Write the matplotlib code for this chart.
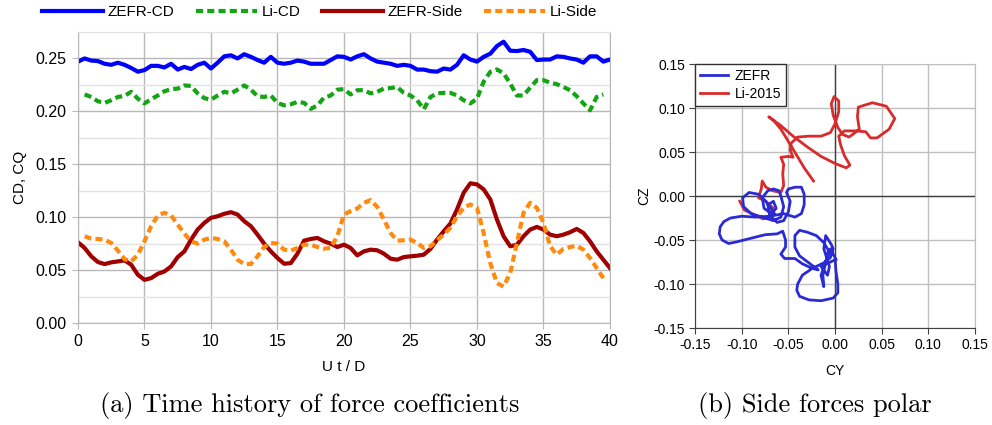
import matplotlib
matplotlib.use("Agg")
import matplotlib.pyplot as plt
import numpy as np

plt.rcParams['font.family'] = ['Liberation Sans', 'DejaVu Sans']

# ---- (a) time history data (sampled every 0.5 U t/D) ----
t = np.arange(0, 40.5, 0.5)

zefr_cd = [0.247, 0.250, 0.248, 0.2475, 0.245, 0.244, 0.246, 0.244, 0.241, 0.2375,
           0.239, 0.243, 0.243, 0.2415, 0.245, 0.2395, 0.242, 0.240, 0.244, 0.246,
           0.2405, 0.246, 0.252, 0.253, 0.250, 0.254, 0.2515, 0.2485, 0.246, 0.2515,
           0.246, 0.245, 0.246, 0.248, 0.247, 0.245, 0.245, 0.245, 0.2485, 0.252,
           0.2515, 0.249, 0.252, 0.254, 0.250, 0.247, 0.246, 0.245, 0.243, 0.244,
           0.243, 0.2395, 0.2395, 0.238, 0.2375, 0.2405, 0.2395, 0.244, 0.253, 0.249,
           0.247, 0.2515, 0.2545, 0.2617, 0.2658, 0.2573, 0.257, 0.258, 0.2563, 0.2485,
           0.249, 0.249, 0.252, 0.2515, 0.250, 0.249, 0.246, 0.252, 0.252, 0.247,
           0.249]

li_cd = [np.nan, 0.216, 0.2136, 0.2095, 0.208, 0.2105, 0.2136, 0.2146, 0.2185, 0.212,
         0.2075, 0.2115, 0.215, 0.219, 0.221, 0.2215, 0.2245, 0.224, 0.217, 0.2125,
         0.211, 0.215, 0.2185, 0.217, 0.2205, 0.2245, 0.2205, 0.2143, 0.2136, 0.215,
         0.208, 0.2057, 0.2067, 0.209, 0.208, 0.2023, 0.2057, 0.213, 0.215, 0.2205,
         0.221, 0.216, 0.220, 0.220, 0.217, 0.2185, 0.2215, 0.222, 0.223, 0.2175,
         0.215, 0.2105, 0.202, 0.2136, 0.217, 0.2175, 0.2175, 0.215, 0.2105, 0.2075,
         0.212, 0.228, 0.2374, 0.2396, 0.236, 0.2263, 0.215, 0.215, 0.2225, 0.2295,
         0.2295, 0.227, 0.2257, 0.223, 0.220, 0.2143, 0.2075, 0.201, 0.2136, 0.216,
         np.nan]

zefr_side = [0.0763, 0.0709, 0.063, 0.0576, 0.0557, 0.0573, 0.0582, 0.0592, 0.0551, 0.0456,
             0.0408, 0.0424, 0.0465, 0.0487, 0.0535, 0.0623, 0.0677, 0.0788, 0.0883, 0.0946,
             0.0994, 0.1009, 0.1032, 0.1047, 0.1025, 0.0962, 0.0915, 0.0835, 0.075, 0.0677,
             0.0614, 0.056, 0.0566, 0.0655, 0.0778, 0.0794, 0.0804, 0.0772, 0.075, 0.0718,
             0.074, 0.0709, 0.0639, 0.0677, 0.0693, 0.0687, 0.0655, 0.0608, 0.0598, 0.0623,
             0.063, 0.0636, 0.0646, 0.070, 0.0788, 0.0867, 0.094, 0.1073, 0.1231, 0.132,
             0.131, 0.1263, 0.1168, 0.0978, 0.082, 0.0725, 0.074, 0.082, 0.0883, 0.0908,
             0.0883, 0.0835, 0.082, 0.0835, 0.0858, 0.0889, 0.0851, 0.0772, 0.0677, 0.0598,
             0.0519]

li_side = [np.nan, 0.082, 0.0797, 0.0794, 0.0788, 0.0756, 0.0684, 0.0604, 0.0582, 0.0646,
           0.0772, 0.0915, 0.1016, 0.1041, 0.1016, 0.093, 0.0845, 0.0772, 0.075, 0.0788,
           0.0804, 0.0794, 0.0772, 0.0693, 0.0598, 0.0557, 0.0557, 0.063, 0.0718, 0.0756,
           0.075, 0.0693, 0.0684, 0.0709, 0.074, 0.074, 0.0718, 0.0703, 0.0709, 0.082,
           0.1025, 0.1057, 0.1082, 0.1136, 0.1161, 0.1098, 0.0978, 0.0851, 0.0778, 0.0782,
           0.0788, 0.0756, 0.0709, 0.0725, 0.0782, 0.0835, 0.0899, 0.1009, 0.1089, 0.112,
           0.1089, 0.0851, 0.0566, 0.0377, 0.0345, 0.0472, 0.0756, 0.1041, 0.1136, 0.1089,
           0.0946, 0.0725, 0.0646, 0.070, 0.0718, 0.073, 0.0693, 0.0614, 0.0519, 0.0424,
           np.nan]

# ---- (b) side force polar traces (CY, CZ) ----
li_cy = [-0.102, -0.097, -0.087, -0.077, -0.068, -0.066, -0.074, -0.082, -0.079, -0.078,
         -0.074, -0.067, -0.058, -0.055, -0.056, -0.055, -0.058, -0.050, -0.045, -0.048,
         -0.047, -0.040, -0.028, -0.015, -0.005, 0.000, 0.004, 0.004, -0.001, -0.004,
         -0.002, 0.003, 0.008, 0.015, 0.019, 0.026, 0.024, 0.025, 0.040, 0.055,
         0.064, 0.058, 0.045, 0.038, 0.033, 0.022, 0.010, 0.004, 0.006, 0.010,
         0.016, 0.012, 0.000, -0.015, -0.030, -0.045, -0.058, -0.071, -0.066, -0.058,
         -0.050, -0.042, -0.033, -0.023]
li_cz = [-0.006, -0.016, -0.021, -0.026, -0.024, -0.014, -0.006, -0.002, 0.008, 0.017,
         0.010, 0.006, 0.004, 0.012, 0.025, 0.036, 0.044, 0.045, 0.044, 0.052,
         0.060, 0.067, 0.068, 0.068, 0.072, 0.082, 0.096, 0.108, 0.113, 0.105,
         0.092, 0.078, 0.070, 0.067, 0.070, 0.076, 0.090, 0.101, 0.106, 0.102,
         0.088, 0.076, 0.066, 0.066, 0.073, 0.074, 0.074, 0.068, 0.058, 0.046,
         0.035, 0.032, 0.037, 0.045, 0.056, 0.068, 0.080, 0.090, 0.086, 0.076,
         0.062, 0.048, 0.032, 0.017]

zefr_cy = [-0.065, -0.070, -0.075, -0.082, -0.092, -0.099, -0.098, -0.090, -0.078, -0.066,
           -0.058, -0.055, -0.058, -0.060, -0.066, -0.072, -0.078, -0.076, -0.068, -0.063,
           -0.066, -0.072, -0.070, -0.062, -0.055, -0.050, -0.048, -0.052, -0.050, -0.043,
           -0.036, -0.033, -0.033, -0.036, -0.043, -0.055, -0.070, -0.085, -0.100, -0.112,
           -0.119, -0.123, -0.124, -0.121, -0.114, -0.105, -0.090, -0.075, -0.062, -0.056,
           -0.053, -0.053, -0.058, -0.054, -0.043, -0.035, -0.025, -0.018, -0.028, -0.038,
           -0.043, -0.043, -0.038, -0.030, -0.020, -0.012, -0.007, -0.010, -0.013, -0.012,
           -0.015, -0.005, 0.000, 0.001, 0.003, 0.003, -0.002, -0.015, -0.028, -0.038,
           -0.041, -0.040, -0.035, -0.024, -0.012, -0.005, -0.002, -0.004, -0.010, -0.012,
           -0.006, -0.008, -0.015, -0.005, 0.001]
zefr_cz = [-0.020, -0.012, -0.005, 0.002, 0.004, -0.002, -0.012, -0.020, -0.024, -0.028,
           -0.024, -0.012, 0.000, 0.006, 0.008, 0.006, -0.002, -0.014, -0.020, -0.014,
           -0.006, -0.010, -0.022, -0.030, -0.028, -0.018, -0.006, 0.004, 0.008, 0.010,
           0.010, 0.002, -0.010, -0.020, -0.024, -0.020, -0.023, -0.024, -0.023, -0.025,
           -0.029, -0.035, -0.043, -0.050, -0.054, -0.052, -0.048, -0.044, -0.043, -0.040,
           -0.050, -0.058, -0.066, -0.071, -0.071, -0.077, -0.082, -0.084, -0.076, -0.068,
           -0.058, -0.045, -0.039, -0.041, -0.045, -0.053, -0.062, -0.075, -0.090, -0.103,
           -0.090, -0.060, -0.070, -0.085, -0.100, -0.110, -0.116, -0.119, -0.118, -0.114,
           -0.107, -0.100, -0.090, -0.082, -0.076, -0.070, -0.060, -0.055, -0.045, -0.060,
           -0.080, -0.090, -0.080, -0.075, -0.072]

fig = plt.figure(figsize=(9.92, 4.25), dpi=100)

# ---------------- left panel ----------------
ax = fig.add_axes([0.0786, 0.24, 0.5363, 0.6847])
l1, = ax.plot(t, zefr_cd, color='#0000ff', lw=3, label='ZEFR-CD')
l2, = ax.plot(t, li_cd, color='#14a514', lw=3, dashes=(1.7, 1.0), label='Li-CD')
l3, = ax.plot(t, zefr_side, color='#a00000', lw=3, label='ZEFR-Side')
l4, = ax.plot(t, li_side, color='#ff8a0d', lw=3, dashes=(1.7, 1.0), label='Li-Side')

ax.set_xlim(0, 40)
ax.set_ylim(0, 0.275)
ax.set_xticks(np.arange(0, 41, 5))
ax.set_yticks([0, 0.05, 0.10, 0.15, 0.20, 0.25])
ax.set_yticks([0.025, 0.075, 0.125, 0.175, 0.225, 0.275], minor=True)
ax.yaxis.set_major_formatter(matplotlib.ticker.FormatStrFormatter('%.2f'))
ax.grid(True, which='major', color='#b8b8b8', lw=1)
ax.grid(True, which='minor', axis='y', color='#e2e2e2', lw=1)
ax.set_axisbelow(True)
for s in ax.spines.values():
    s.set_color('#b8b8b8')
ax.spines['top'].set_color('#e2e2e2')
ax.tick_params(which='major', length=4, color='#b8b8b8', labelsize=11.5, pad=4)
ax.tick_params(which='minor', length=0)
ax.set_xlabel('U t / D', fontsize=11, labelpad=8)
ax.set_ylabel('CD, CQ', fontsize=11, labelpad=6)

fig.legend(handles=[l1, l2, l3, l4], ncol=4, loc='center',
           bbox_to_anchor=(0.322, 0.972), frameon=False, fontsize=11,
           handlelength=4, handletextpad=0.3, columnspacing=1.4)

# ---------------- right panel ----------------
bx = fig.add_axes([0.7006, 0.2282, 0.2823, 0.6212])
bx.axhline(0, color='#404040', lw=1, zorder=1)
bx.axvline(0, color='#404040', lw=1, zorder=1)
m1, = bx.plot(zefr_cy, zefr_cz, color='#2b2bd6', lw=2, label='ZEFR', zorder=3)
m2, = bx.plot(li_cy, li_cz, color='#d92b2b', lw=2, label='Li-2015', zorder=2)

bx.set_xlim(-0.15, 0.15)
bx.set_ylim(-0.15, 0.15)
ticks = [-0.15, -0.10, -0.05, 0.0, 0.05, 0.10, 0.15]
bx.set_xticks(ticks)
bx.set_yticks(ticks)
bx.xaxis.set_major_formatter(matplotlib.ticker.FormatStrFormatter('%.2f'))
bx.yaxis.set_major_formatter(matplotlib.ticker.FormatStrFormatter('%.2f'))
bx.grid(True, color='#c0c0c0', lw=1)
bx.set_axisbelow(True)
bx.spines['left'].set_color('#404040')
bx.spines['bottom'].set_color('#404040')
bx.spines['top'].set_color('#c0c0c0')
bx.spines['right'].set_color('#c0c0c0')
bx.tick_params(length=4, color='#404040', labelsize=10, pad=3)
bx.set_xlabel('CY', fontsize=10, labelpad=9)
bx.set_ylabel('CZ', fontsize=10, labelpad=2)

leg = bx.legend(handles=[m1, m2], loc='upper left', bbox_to_anchor=(0, 1),
                borderaxespad=0, fancybox=False, edgecolor='#303030',
                framealpha=1, fontsize=10, handlelength=2, handletextpad=0.5,
                borderpad=0.35, labelspacing=0.3)
leg.get_frame().set_linewidth(1)

# ---------------- captions ----------------
fig.text(0.3125, 0.047, '(a) Time history of force coefficients', family='cmr10',
         fontsize=19, ha='center', va='center')
fig.text(0.821, 0.047, '(b) Side forces polar', family='cmr10',
         fontsize=19, ha='center', va='center')

fig.savefig('out.png', dpi=100)
